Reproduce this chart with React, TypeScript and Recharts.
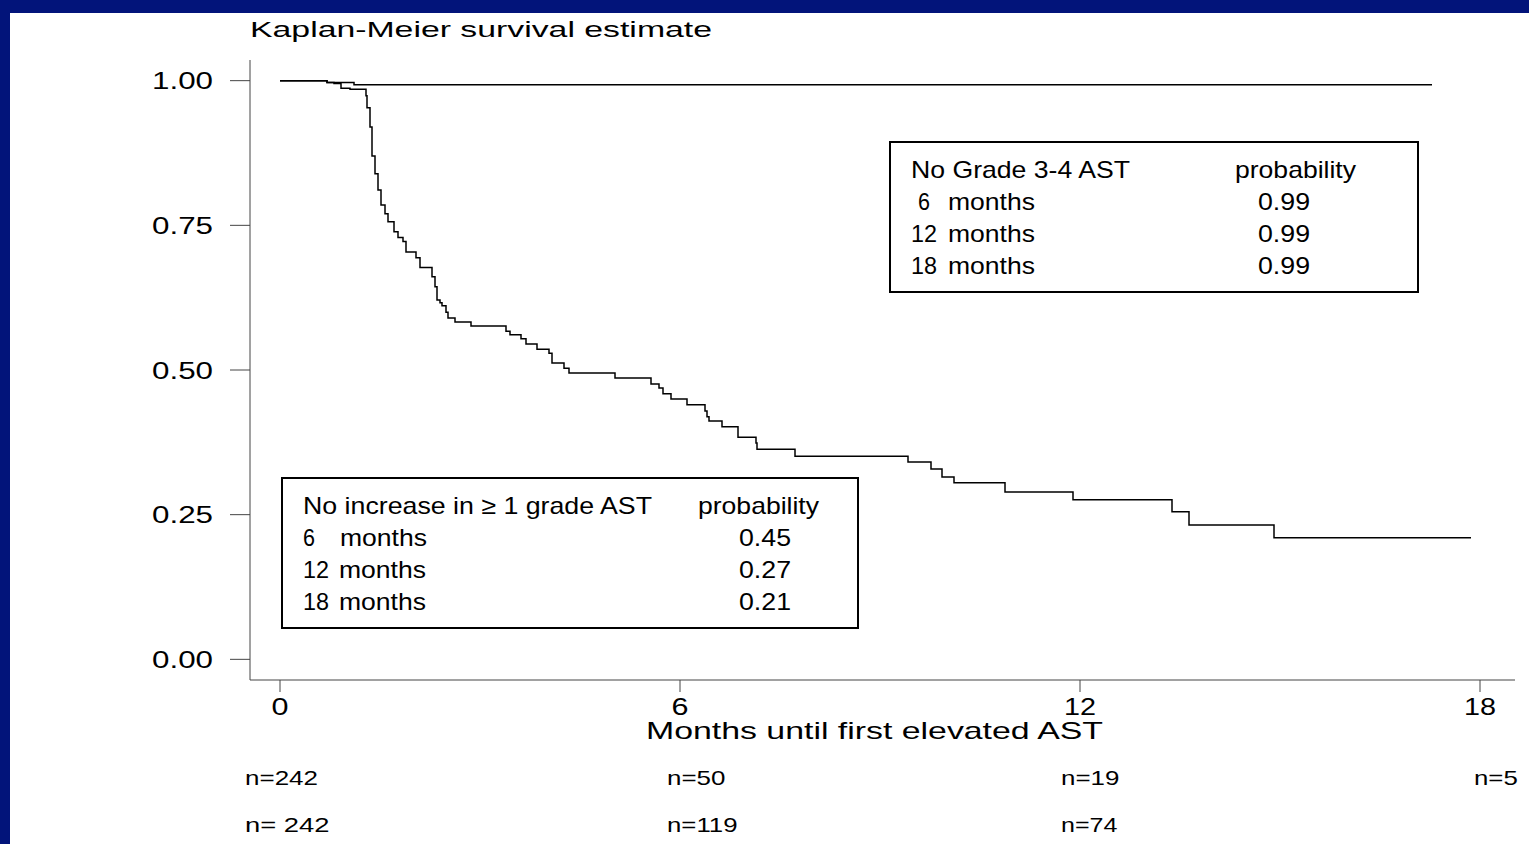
import { LineChart, Line, XAxis, YAxis } from "recharts";

const W = 1529;
const H = 844;
const FONT = "'Liberation Sans', Arial, Helvetica, sans-serif";

// No increase in >= 1 grade AST (step curve)
const lowerMonths = [
  0, 0.705, 0.81, 0.915, 1.05, 1.29, 1.305, 1.35, 1.38, 1.425, 1.47, 1.515, 1.575, 1.62, 1.71,
  1.77, 1.845, 1.89, 2.04, 2.1, 2.28, 2.325, 2.355, 2.4, 2.43, 2.49, 2.52, 2.625, 2.865, 3.39,
  3.45, 3.615, 3.69, 3.855, 4.035, 4.08, 4.26, 4.335, 5.025, 5.565, 5.685, 5.745, 5.865, 6.105,
  6.375, 6.405, 6.435, 6.63, 6.87, 7.14, 7.155, 7.725, 9.42, 9.765, 9.93, 10.11, 10.875, 11.895,
  13.38, 13.635, 14.91, 17.865,
];
const lowerSurv = [
  1.0, 0.997, 0.995, 0.987, 0.985, 0.974, 0.953, 0.92, 0.87, 0.839, 0.811, 0.785, 0.77, 0.756,
  0.739, 0.729, 0.722, 0.704, 0.694, 0.677, 0.661, 0.644, 0.621, 0.616, 0.611, 0.6, 0.59, 0.583,
  0.576, 0.567, 0.561, 0.554, 0.545, 0.536, 0.529, 0.512, 0.503, 0.495, 0.486, 0.476, 0.469,
  0.459, 0.45, 0.44, 0.429, 0.419, 0.412, 0.402, 0.384, 0.374, 0.363, 0.351, 0.341, 0.329, 0.315,
  0.305, 0.289, 0.276, 0.255, 0.232, 0.21, 0.21,
];

// No Grade 3-4 AST
const upperMonths = [0, 0.705, 1.11, 17.28];
const upperSurv = [1.0, 0.997, 0.993, 0.993];

const xTicks = [0, 6, 12, 18];
const yTicks = [0, 0.25, 0.5, 0.75, 1];

const atRiskRow1 = ["n=242", "n=50", "n=19", "n=5"];
const atRiskRow2 = ["n= 242", "n=119", "n=74"];

const gradeMonths = ["6", "12", "18"];
const gradeProb = ["0.99", "0.99", "0.99"];
const increaseMonths = ["6", "12", "18"];
const increaseProb = ["0.45", "0.27", "0.21"];

const lowerData = lowerMonths.map((m, i) => ({ m, s: lowerSurv[i] }));
const upperData = upperMonths.map((m, i) => ({ m, s: upperSurv[i] }));

// text squeezed/stretched to a given width, like the stretched slide
function SText({ x, y, w, size = 24, anchor = "start", children }: any) {
  const left = anchor === "middle" ? x - w / 2 : anchor === "end" ? x - w : x;
  return (
    <text
      x={left}
      y={y}
      fontSize={size}
      fontFamily={FONT}
      fill="#000"
      textLength={w}
      lengthAdjust="spacingAndGlyphs"
    >
      {children}
    </text>
  );
}

const YTick = ({ y, payload }: any) => (
  <SText x={213} y={y + 8.5} w={61} anchor="end">
    {payload.value.toFixed(2)}
  </SText>
);

const XTick = ({ x, payload }: any) => (
  <SText x={x} y={715} w={String(payload.value).length > 1 ? 32 : 17} anchor="middle">
    {String(payload.value)}
  </SText>
);

const atRiskX = [245, 667, 1061, 1474];

export default function App() {
  return (
    <div
      style={{
        position: "absolute",
        left: 0,
        top: 0,
        width: W,
        height: H,
        background: "#fff",
        overflow: "hidden",
        fontFamily: FONT,
      }}
    >
      <LineChart width={W} height={H} margin={{ top: 60, right: 14, left: 0, bottom: 0 }}>
        <XAxis
          type="number"
          dataKey="m"
          domain={[-0.45, 18.525]}
          ticks={xTicks}
          allowDataOverflow
          interval={0}
          height={164}
          tickSize={12}
          stroke="#444"
          tick={<XTick />}
        />
        <YAxis
          type="number"
          dataKey="s"
          domain={[-0.0357, 1.0357]}
          ticks={yTicks}
          allowDataOverflow
          interval={0}
          width={250}
          tickSize={20}
          stroke="#444"
          tick={<YTick />}
        />
        <Line
          data={lowerData}
          dataKey="s"
          type="stepAfter"
          stroke="#000"
          strokeWidth={1.5}
          dot={false}
          isAnimationActive={false}
        />
        <Line
          data={upperData}
          dataKey="s"
          type="stepAfter"
          stroke="#000"
          strokeWidth={1.5}
          dot={false}
          isAnimationActive={false}
        />
      </LineChart>

      <svg
        width={W}
        height={H}
        style={{ position: "absolute", left: 0, top: 0, pointerEvents: "none" }}
      >
        <SText x={250} y={37} w={462} size={22}>
          Kaplan-Meier survival estimate
        </SText>
        <SText x={646} y={739} w={457}>
          Months until first elevated AST
        </SText>

        {/* No Grade 3-4 AST box */}
        <rect x={890} y={142} width={528} height={150} fill="#fff" stroke="#000" strokeWidth={2} />
        <SText x={911} y={178} w={219}>No Grade 3-4 AST</SText>
        <SText x={1235} y={178} w={121}>probability</SText>
        {gradeMonths.map((m, i) => (
          <g key={m}>
            <SText x={m.length > 1 ? 911 : 918} y={210 + i * 32} w={m.length > 1 ? 26 : 12}>
              {m}
            </SText>
            <SText x={948} y={210 + i * 32} w={87}>months</SText>
            <SText x={1258} y={210 + i * 32} w={52}>{gradeProb[i]}</SText>
          </g>
        ))}

        {/* No increase box */}
        <rect x={282} y={478} width={576} height={150} fill="#fff" stroke="#000" strokeWidth={2} />
        <SText x={303} y={514} w={349}>No increase in ≥ 1 grade AST</SText>
        <SText x={698} y={514} w={121}>probability</SText>
        {increaseMonths.map((m, i) => (
          <g key={m}>
            <SText x={303} y={546 + i * 32} w={m.length > 1 ? 26 : 12}>
              {m}
            </SText>
            <SText x={m.length > 1 ? 339 : 340} y={546 + i * 32} w={87}>months</SText>
            <SText x={739} y={546 + i * 32} w={52}>{increaseProb[i]}</SText>
          </g>
        ))}

        {atRiskRow1.map((t, i) => (
          <SText key={t} x={atRiskX[i]} y={785} w={t.length * 14.6} size={21}>
            {t}
          </SText>
        ))}
        {atRiskRow2.map((t, i) => (
          <SText key={t} x={atRiskX[i]} y={832} w={t.length * 14.1} size={21}>
            {t}
          </SText>
        ))}
      </svg>

      <div style={{ position: "absolute", left: 0, top: 0, width: W, height: 13, background: "#02147a" }} />
      <div style={{ position: "absolute", left: 0, top: 0, width: 10, height: H, background: "#02147a" }} />
    </div>
  );
}
